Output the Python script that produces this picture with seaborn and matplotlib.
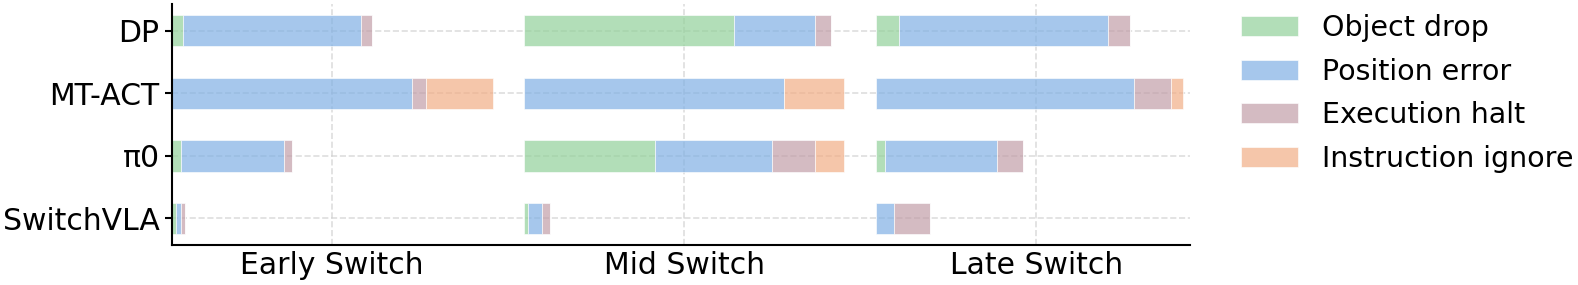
from matplotlib import pyplot as plt
import numpy as np
import seaborn as sns

models = ['DP', 'MT-ACT', 'π0', 'SwitchVLA']
phases = ['Early Switch', 'Mid Switch', 'Late Switch']
failures = ['Object drop', 'Position error', 'Execution halt', 'Instruction ignore']

# failure rates (%) per phase, rows follow `models`
early_drop = [3.4, 0.0, 2.7, 1.2]
early_pos = [55.8, 75.1, 32.2, 1.7]
early_halt = [3.3, 4.2, 2.7, 1.25]
early_ignore = [0.0, 20.9, 0.0, 0.0]

mid_drop = [65.7, 0.0, 40.9, 1.35]
mid_pos = [25.2, 81.3, 36.5, 4.1]
mid_halt = [5.0, 0.0, 13.5, 2.8]
mid_ignore = [0.0, 18.7, 9.2, 0.0]

late_drop = [7.0, 0.0, 2.7, 0.0]
late_pos = [65.5, 80.7, 35.1, 5.6]
late_halt = [6.9, 11.5, 8.1, 11.1]
late_ignore = [0.0, 3.8, 0.0, 0.0]

data = {
    'Early Switch': [early_drop, early_pos, early_halt, early_ignore],
    'Mid Switch': [mid_drop, mid_pos, mid_halt, mid_ignore],
    'Late Switch': [late_drop, late_pos, late_halt, late_ignore],
}

colors = ['#92d19a', '#80b0e4', '#c29ea8', '#f2ae86']
group_gap = 110

sns.set_style('white')
plt.rcParams['font.family'] = ['DejaVu Sans']
plt.rcParams['text.color'] = 'black'
plt.rcParams['xtick.color'] = 'black'
plt.rcParams['ytick.color'] = 'black'

fig = plt.figure(figsize=(15.78, 2.85), dpi=100)
ax = fig.add_axes([0.109, 0.14, 0.645, 0.846])

y = np.arange(len(models))
for g, phase in enumerate(phases):
    left = np.full(len(models), g * group_gap, dtype=float)
    for k, vals in enumerate(data[phase]):
        vals = np.array(vals)
        ax.barh(y, vals, left=left, height=0.5, color=colors[k], alpha=0.7,
                edgecolor='white', linewidth=0.6,
                label=failures[k] if g == 0 else None, zorder=2)
        left = left + vals

ax.set_yticks(y)
ax.set_yticklabels(models, fontsize=21.5)
ax.invert_yaxis()
ax.set_xticks([g * group_gap + 50 for g in range(len(phases))])
ax.set_xticklabels(phases, fontsize=21.5)
ax.set_xlim(0, 318)
ax.tick_params(axis='x', length=0, pad=4)
ax.tick_params(axis='y', length=5, width=1.5, left=True, pad=4)
ax.grid(True, linestyle='--', color='#d0d0d0', linewidth=1.2, alpha=0.7, zorder=0)
ax.set_axisbelow(True)
sns.despine(ax=ax)
for s in ['left', 'bottom']:
    ax.spines[s].set_color('black')
    ax.spines[s].set_linewidth(1.5)

leg = ax.legend(loc='upper left', bbox_to_anchor=(1.025, 1.065), frameon=False,
                fontsize=20.5, handlelength=2.0, handleheight=0.7,
                labelspacing=0.55, handletextpad=0.85)

fig.savefig('out.png', dpi=100)
